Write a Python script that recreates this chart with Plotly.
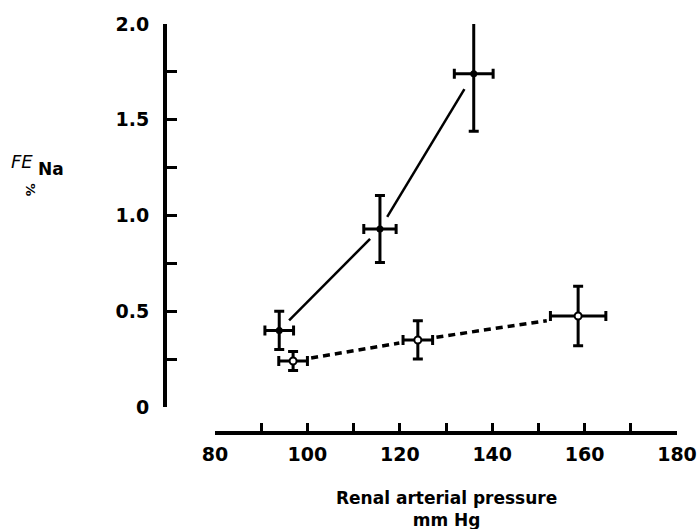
import plotly.graph_objects as go

# ---- data ----
solid_x = [93.9, 115.7, 136.0]
solid_xerr = [3.1, 3.5, 4.2]
solid_y = [0.40, 0.93, 1.74]
solid_yerr = [0.10, 0.175, 0.30]

dashed_x = [96.9, 123.9, 158.6]
dashed_xerr = [3.1, 3.2, 6.0]
dashed_y = [0.24, 0.35, 0.475]
dashed_yerr = [0.05, 0.10, 0.155]

x_tickvals = [80, 100, 120, 140, 160, 180]
x_ticktext = ["80", "100", "120", "140", "160", "180"]
y_tickvals = [0, 0.5, 1.0, 1.5, 2.0]
y_ticktext = ["0", "0.5", "1.0", "1.5", "2.0"]

# ---- layout geometry ----
W, H = 697, 529
ML, MR, MT, MB = 165, 20, 24, 96
XDOM = [0.0977, 1.0]
YDOM = [0.0636, 1.0]
XRANGE = [80, 180]
YRANGE = [0, 2.0]

plot_w = (W - ML - MR) * (XDOM[1] - XDOM[0])
plot_h = (H - MT - MB) * (YDOM[1] - YDOM[0])
px_x = plot_w / (XRANGE[1] - XRANGE[0])
px_y = plot_h / (YRANGE[1] - YRANGE[0])


def gapped_segments(xs, ys, gaps):
    ox, oy = [], []
    for i in range(len(xs) - 1):
        dx = (xs[i + 1] - xs[i]) * px_x
        dy = (ys[i + 1] - ys[i]) * px_y
        L = (dx ** 2 + dy ** 2) ** 0.5
        f0 = gaps[i] / L
        f1 = gaps[i + 1] / L
        ox += [xs[i] + f0 * (xs[i + 1] - xs[i]), xs[i + 1] - f1 * (xs[i + 1] - xs[i]), None]
        oy += [ys[i] + f0 * (ys[i + 1] - ys[i]), ys[i + 1] - f1 * (ys[i + 1] - ys[i]), None]
    return ox, oy


fig = go.Figure()

sx, sy = gapped_segments(solid_x, solid_y, [14, 14, 18])
fig.add_trace(go.Scatter(x=sx, y=sy, mode="lines", line=dict(color="black", width=2.5),
                         cliponaxis=False, showlegend=False, hoverinfo="skip"))
dash_gaps = [e * px_x + 4 for e in dashed_xerr]
dx_, dy_ = gapped_segments(dashed_x, dashed_y, dash_gaps)
fig.add_trace(go.Scatter(x=dx_, y=dy_, mode="lines",
                         line=dict(color="black", width=3.5, dash="7px,5px"),
                         cliponaxis=False, showlegend=False, hoverinfo="skip"))

fig.add_trace(go.Scatter(
    x=solid_x, y=solid_y, mode="markers",
    marker=dict(color="black", size=7, symbol="circle"),
    error_x=dict(type="data", array=solid_xerr, color="black", thickness=3, width=5),
    error_y=dict(type="data", array=solid_yerr, color="black", thickness=3, width=5),
    cliponaxis=False, showlegend=False))

fig.add_trace(go.Scatter(
    x=dashed_x, y=dashed_y, mode="markers",
    marker=dict(color="white", size=7, symbol="circle", line=dict(color="black", width=2)),
    error_x=dict(type="data", array=dashed_xerr, color="black", thickness=3, width=5),
    error_y=dict(type="data", array=dashed_yerr, color="black", thickness=3, width=5),
    cliponaxis=False, showlegend=False))

FONT = "DejaVu Sans"
tick_font = dict(family=FONT, size=19, color="black", weight="bold")

fig.update_layout(
    width=W, height=H,
    margin=dict(l=ML, r=MR, t=MT, b=MB, pad=0, autoexpand=False),
    paper_bgcolor="white", plot_bgcolor="white",
    xaxis=dict(
        domain=XDOM, range=XRANGE, anchor="free", position=0, automargin=False,
        showline=True, linecolor="black", linewidth=3.5,
        showgrid=False, zeroline=False,
        ticks="inside", ticklen=8, tickwidth=3, tickcolor="black",
        tickvals=x_tickvals, ticktext=x_ticktext, tickfont=tick_font,
        ticklabelstandoff=3,
        minor=dict(dtick=10, tick0=80, ticks="inside", ticklen=8, tickwidth=3,
                   tickcolor="black", showgrid=False),
    ),
    yaxis=dict(
        domain=YDOM, range=YRANGE, anchor="free", position=0, automargin=False,
        showline=True, linecolor="black", linewidth=4,
        showgrid=False, zeroline=False,
        ticks="inside", ticklen=10, tickwidth=3, tickcolor="black",
        tickvals=y_tickvals, ticktext=y_ticktext, tickfont=tick_font,
        ticklabelstandoff=10,
        minor=dict(dtick=0.25, tick0=0, ticks="inside", ticklen=10, tickwidth=3,
                   tickcolor="black", showgrid=False),
    ),
    annotations=[
        dict(text="<b>Renal arterial pressure</b><br><b>mm Hg</b>", xref="paper", yref="paper",
             x=(XDOM[0] + XDOM[1]) / 2, y=-0.186, showarrow=False,
             font=dict(family=FONT, size=17, color="black"), yanchor="middle"),
        dict(text="<i>FE</i>", xref="paper", yref="paper", x=-0.305, y=0.665,
             xanchor="left", showarrow=False,
             font=dict(family=FONT, size=18, color="black"), yanchor="middle"),
        dict(text="<b>Na</b>", xref="paper", yref="paper", x=-0.252, y=0.645,
             xanchor="left", showarrow=False,
             font=dict(family=FONT, size=17, color="black"), yanchor="middle"),
        dict(text="<b>%</b>", xref="paper", yref="paper", x=-0.262, y=0.594,
             xanchor="center", showarrow=False, textangle=90,
             font=dict(family=FONT, size=13, color="black"), yanchor="middle"),
    ],
)

fig.write_html("out.html")
